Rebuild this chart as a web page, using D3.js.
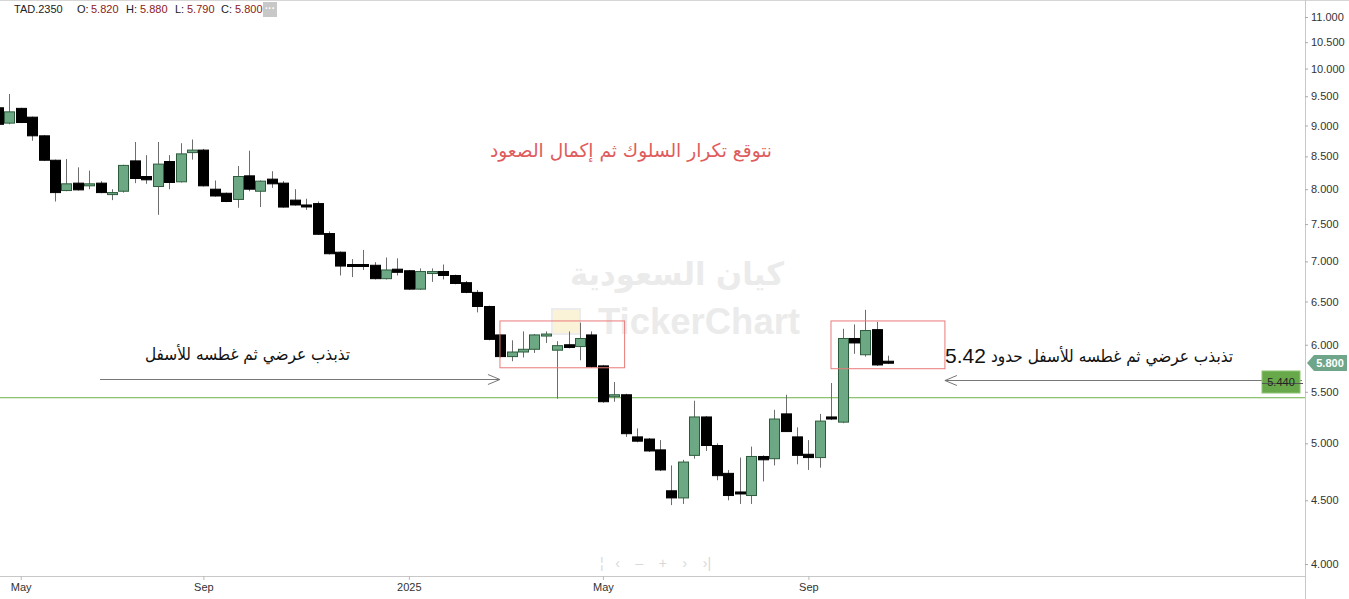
<!DOCTYPE html>
<html>
<head>
<meta charset="utf-8">
<script src="https://cdn.jsdelivr.net/npm/d3@7"></script>
<style>
  body { margin: 0; background: #fff; }
  svg { display: block; font-family: "Liberation Sans", Arial, sans-serif; }
</style>
</head>
<body>
<svg width="1349" height="599"></svg>
<script>
// weekly candles, TAD.2350
const opens  = [9.30,9.04,9.29,9.14,8.83,8.44,7.98,8.09,8.06,8.09,7.93,7.97,8.43,8.19,8.04,8.42,8.11,8.56,8.60,8.00,
                7.94,7.85,8.20,7.97,8.15,8.09,7.84,7.77,7.79,7.37,7.12,6.96,6.96,6.95,6.78,6.90,6.88,6.65,6.85,6.87,
                6.82,6.73,6.61,6.44,6.11,5.87,5.92,5.95,6.10,5.94,6.00,5.98,6.11,5.77,5.45,5.47,5.06,5.04,4.94,4.58,
                4.52,4.89,5.25,4.98,4.73,4.57,4.54,4.88,4.86,5.28,5.06,4.90,4.87,5.25,5.20,6.07,5.89,6.17,5.82];
const highs  = [9.36,9.54,9.30,9.15,8.84,8.45,8.46,8.33,8.28,8.12,8.00,8.37,8.73,8.52,8.73,8.52,8.71,8.77,8.62,8.13,
                7.95,8.35,8.59,8.13,8.27,8.12,8.00,7.86,7.82,7.40,7.13,7.03,7.15,6.99,7.05,7.04,6.89,6.91,6.91,6.96,
                6.83,6.75,6.64,6.45,6.12,6.05,6.15,6.12,6.15,6.04,6.15,6.25,6.15,5.78,5.60,5.48,5.14,5.05,5.03,4.80,
                4.85,5.41,5.26,5.00,4.76,4.87,4.97,4.89,5.32,5.47,5.15,5.03,5.28,5.59,6.18,6.23,6.40,6.26,5.88];
const lows   = [9.00,9.02,9.04,8.75,8.43,7.82,7.97,7.98,8.00,7.94,7.84,7.95,8.09,8.08,7.63,8.00,8.10,8.45,8.04,7.89,
                7.81,7.73,7.97,7.74,8.02,7.73,7.76,7.70,7.35,7.09,6.82,6.80,6.89,6.77,6.77,6.82,6.64,6.64,6.74,6.77,
                6.71,6.60,6.37,6.05,5.86,5.82,5.86,5.91,6.02,5.43,5.96,5.83,5.75,5.39,5.40,5.06,5.01,4.92,4.75,4.46,
                4.47,4.86,4.93,4.67,4.50,4.47,4.47,4.66,4.80,5.11,4.81,4.76,4.78,5.22,5.19,5.90,5.87,5.77,5.79];
const closes = [9.02,9.23,9.05,8.83,8.44,7.95,8.08,7.99,8.08,7.95,7.95,8.36,8.16,8.14,8.38,8.10,8.54,8.60,8.05,7.90,
                7.82,8.19,8.00,8.12,8.08,7.74,7.77,7.75,7.36,7.10,6.94,6.94,6.94,6.78,6.89,6.86,6.65,6.87,6.87,6.82,
                6.72,6.61,6.44,6.06,5.87,5.92,5.95,6.11,6.12,5.99,5.97,6.07,5.76,5.40,5.47,5.09,5.02,4.93,4.76,4.52,
                4.83,5.25,4.98,4.71,4.54,4.56,4.88,4.85,5.23,5.11,4.89,4.87,5.21,5.23,6.07,6.02,6.16,5.78,5.80];

const xTickIdx    = [2, 18, 36, 53, 71];
const xTickLabels = ["May", "Sep", "2025", "May", "Sep"];
const yTicks      = [4, 4.5, 5, 5.5, 6, 6.5, 7, 7.5, 8, 8.5, 9, 9.5, 10, 10.5, 11];

const supportLevel = 5.44;
const lastClose = closes[closes.length - 1];

const candles = opens.map((o, i) => ({ i: i, o: o, h: highs[i], l: lows[i], c: closes[i] }));

const svg = d3.select("svg");
const plotR = 1305, plotB = 576;

const x = d3.scaleLinear().domain([0, 78]).range([-2.1, 888.3]);
const y = d3.scaleLog().domain([4, 11]).range([564, 17]);
const bw = 10;

svg.append("clipPath").attr("id", "plot")
  .append("rect").attr("x", 0).attr("y", 0).attr("width", plotR).attr("height", plotB);

// frame
svg.append("line").attr("x1", 0).attr("x2", 1349).attr("y1", 0.5).attr("y2", 0.5).attr("stroke", "#d6d6d6");
svg.append("line").attr("x1", plotR + 0.5).attr("x2", plotR + 0.5).attr("y1", 0).attr("y2", 599).attr("stroke", "#c8c8c8");
svg.append("line").attr("x1", 0).attr("x2", plotR).attr("y1", plotB + 0.5).attr("y2", plotB + 0.5).attr("stroke", "#c8c8c8");

// watermark
let wm = svg.append("g").attr("fill", "#ebebeb").attr("font-weight", "bold");
wm.append("text").attr("x", 677).attr("y", 285).attr("text-anchor", "middle")
  .attr("font-family", "DejaVu Sans, sans-serif").attr("font-size", 32)
  .attr("textLength", 214).attr("lengthAdjust", "spacingAndGlyphs").text("كيان السعودية");
wm.append("rect").attr("x", 552).attr("y", 309).attr("width", 28).attr("height", 25)
  .attr("fill", "#fbf3d8").attr("stroke", "#ececec").attr("stroke-width", 2);
wm.append("text").attr("x", 598).attr("y", 334).attr("font-size", 36)
  .attr("font-family", "Liberation Sans, Arial, sans-serif")
  .attr("textLength", 202).attr("lengthAdjust", "spacingAndGlyphs").text("TickerChart");

const plot = svg.append("g").attr("clip-path", "url(#plot)");

// support line
plot.append("line")
  .attr("x1", 0).attr("x2", plotR)
  .attr("y1", y(supportLevel)).attr("y2", y(supportLevel))
  .attr("stroke", "#6cb14a").attr("stroke-width", 1);

// candles
let cg = plot.selectAll(".candle").data(candles).enter().append("g").attr("class", "candle");
cg.append("line")
  .attr("x1", d => Math.round(x(d.i)) + 0.5).attr("x2", d => Math.round(x(d.i)) + 0.5)
  .attr("y1", d => y(d.h)).attr("y2", d => y(d.l))
  .attr("stroke", "#6d6d6d").attr("stroke-width", 1);
cg.append("rect")
  .attr("x", d => Math.round(x(d.i)) - bw / 2 + 0.5)
  .attr("y", d => y(Math.max(d.o, d.c)))
  .attr("width", bw)
  .attr("height", d => Math.max(2, Math.abs(y(d.o) - y(d.c))))
  .attr("fill", d => d.c >= d.o ? "#6ca884" : "#000")
  .attr("stroke", d => d.c >= d.o ? "#2d5c3c" : "#000")
  .attr("stroke-width", 1);

// annotation boxes
const boxes = [[43.98, 54.9, 6.27, 5.75], [72.98, 82.96, 6.27, 5.74]];
plot.selectAll(".box").data(boxes).enter().append("rect")
  .attr("x", d => x(d[0])).attr("y", d => y(d[2]))
  .attr("width", d => x(d[1]) - x(d[0])).attr("height", d => y(d[3]) - y(d[2]))
  .attr("fill", "none").attr("stroke", "#ea7a7a").attr("stroke-width", 1);

// arrows
function arrow(x1, x2, yy) {
  let g = svg.append("g").attr("stroke", "#777").attr("fill", "none").attr("stroke-width", 1);
  g.append("line").attr("x1", x1).attr("x2", x2).attr("y1", yy).attr("y2", yy);
  let dir = x2 > x1 ? -1 : 1;
  g.append("path").attr("d", `M${x2 + dir * 12},${yy - 5} L${x2},${yy} L${x2 + dir * 12},${yy + 5}`);
}
arrow(x(8.94), x(43.98), Math.round(y(5.63)) + 0.5);
arrow(1302, x(82.96), Math.round(y(5.62)) + 0.5);

// texts
function arText(xx, yy, size, color, len, str) {
  return svg.append("text").attr("x", xx).attr("y", yy).attr("text-anchor", "end")
    .attr("font-family", "DejaVu Sans, sans-serif").attr("font-size", size).attr("fill", color)
    .attr("textLength", len).attr("lengthAdjust", "spacingAndGlyphs").text(str);
}
arText(772, 157, 19, "#e05c5c", 282, "نتوقع تكرار السلوك ثم إكمال الصعود");
arText(350, 360, 17, "#111", 205, "تذبذب عرضي ثم غطسه للأسفل");
arText(1233, 362, 17, "#111", 242, "تذبذب عرضي ثم غطسه للأسفل حدود");
svg.append("text").attr("x", 945).attr("y", 363)
  .attr("font-size", 21).attr("fill", "#111").text("5.42");

// support label
svg.append("rect").attr("x", 1262).attr("y", 371).attr("width", 38).attr("height", 22)
  .attr("fill", "#67a84b").attr("stroke", "#8cc472");
svg.append("line").attr("x1", 1262).attr("x2", 1303).attr("y1", 383.5).attr("y2", 383.5).attr("stroke", "#555");
svg.append("text").attr("x", 1281).attr("y", 386).attr("text-anchor", "middle")
  .attr("font-size", 11).attr("fill", "#222").text(supportLevel.toFixed(3));

// y axis
let ya = svg.append("g").attr("transform", `translate(${plotR},0)`)
  .call(d3.axisRight(y).tickValues(yTicks).tickFormat(d3.format(".3f")).tickSize(3).tickPadding(3));
ya.select(".domain").remove();
ya.selectAll("line").attr("stroke", "#aaa");
ya.selectAll("text").attr("fill", "#333").attr("font-size", 11).attr("font-family", "Liberation Sans, Arial, sans-serif");

// last price marker
let ly = y(lastClose);
svg.append("path")
  .attr("d", `M1307,${ly} L1314,${ly - 8} L1347,${ly - 8} L1347,${ly + 8} L1314,${ly + 8} Z`)
  .attr("fill", "#6fa68a");
svg.append("text").attr("x", 1330).attr("y", ly + 4).attr("text-anchor", "middle")
  .attr("font-size", 11).attr("font-weight", "bold").attr("fill", "#fff").text(lastClose.toFixed(3));

// x axis
let xa = svg.append("g").attr("transform", `translate(0,${plotB})`)
  .call(d3.axisBottom(x).tickValues(xTickIdx).tickFormat((d, k) => xTickLabels[k]).tickSize(4).tickPadding(3));
xa.select(".domain").remove();
xa.selectAll("line").attr("stroke", "#bbb");
xa.selectAll("text").attr("fill", "#333").attr("font-size", 11)
  .attr("font-family", "Liberation Sans Narrow, Liberation Sans, Arial, sans-serif");

// nav controls
svg.append("text").attr("x", 600).attr("y", 568).attr("fill", "#d8d8d8").attr("font-size", 14)
  .attr("xml:space", "preserve").text("¦   ‹    –    +    ›    ›|");

// header
const hdr = [
  ["TAD.2350", 14, "#222"], ["O:", 77, "#222"], [opens[78].toFixed(3), 91, "#8b1a1a"],
  ["H:", 126, "#222"], [highs[78].toFixed(3), 140, "#8b1a1a"],
  ["L:", 175, "#222"], [lows[78].toFixed(3), 187, "#8b1a1a"],
  ["C:", 221, "#222"], [closes[78].toFixed(3), 235, "#8b1a1a"]
];
svg.selectAll(".hdr").data(hdr).enter().append("text")
  .attr("x", d => d[1]).attr("y", 13).attr("font-size", 11).attr("fill", d => d[2]).text(d => d[0]);
svg.append("rect").attr("x", 263).attr("y", 2).attr("width", 14).attr("height", 15).attr("fill", "#c8c8c8");
svg.append("text").attr("x", 270).attr("y", 12).attr("text-anchor", "middle").attr("fill", "#fff")
  .attr("font-size", 10).attr("font-weight", "bold").text("···");
</script>
</body>
</html>
